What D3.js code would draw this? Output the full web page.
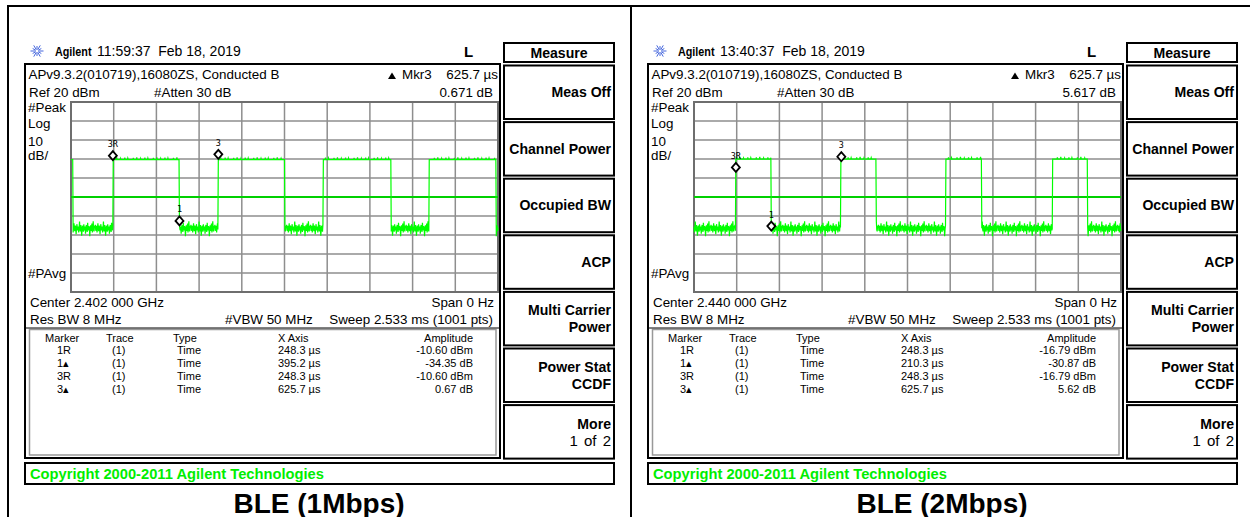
<!DOCTYPE html>
<html><head><meta charset="utf-8">
<script src="https://cdn.jsdelivr.net/npm/d3@7"></script>
<style>
body{margin:0;background:#fff;}
svg{display:block;}
</style></head><body>
<svg id="c" width="1250" height="517"></svg>
<script>
// ---------------- data ----------------
const panelTitles = ["BLE (1Mbps)", "BLE (2Mbps)"];
const clockTimes = ["11:59:37", "13:40:37"];
const dateText = "Feb 18, 2019";
const setupLine = "APv9.3.2(010719),16080ZS, Conducted B";
const refText = "Ref 20 dBm";
const attenText = "#Atten 30 dB";
const centerFreqs = ["Center 2.402 000 GHz", "Center 2.440 000 GHz"];
const spanText = "Span 0 Hz";
const rbwText = "Res BW 8 MHz";
const vbwText = "#VBW 50 MHz";
const sweepText = "Sweep 2.533 ms (1001 pts)";
const mkrReadoutTime = ["625.7 µs", "625.7 µs"];
const mkrReadoutDelta = ["0.671 dB", "5.617 dB"];
const leftLabels = ["#Peak", "Log", "10", "dB/"];
const sweepUs = 2533;
const refLevelDbm = 20;
const bottomLevelDbm = -80;
const displayLineDbm = -30;
const xDivisions = [0,1,2,3,4,5,6,7,8,9,10];
const yGridDbm = [20,10,0,-10,-20,-30,-40,-50,-60,-70,-80];
const tracePoints = 1001;
const onLevelDbm = [-10.3, -10.1];
// burst "on" intervals in µs; elsewhere the trace sits on the noise floor
const burstsLeft = [[0,12],[249,641],[872,1269],[1495,1898],[2124,2521]];
const burstsRight = [[248,456],[871,1081],[1493,1706],[2127,2334]];
// noise floor samples (dBm), read approximately from the trace band
const noiseFloorDbm = [-46.0,-44.6,-47.8,-46.9,-45.2,-48.7,-46.4,-43.8,-47.1,-48.0,-45.0,-46.3,-49.6,-45.9,
  -44.3,-47.5,-46.7,-45.6,-48.6,-46.5,-42.9,-47.0,-48.1,-44.8,-46.1,-50.4,-47.3,-45.1,-46.4,-48.3,-44.4,
  -46.9,-47.6,-45.6,-49.3,-45.9,-44.7,-47.2,-48.4,-43.6,-46.7,-47.5,-45.3,-46.2,-50.6,-47.0,-44.9,-47.8,
  -46.1,-44.0,-48.7,-46.6,-42.8,-47.3,-48.1,-45.2];
// small ripple on top of the burst level (dB)
const onRippleDb = [0,0,0,0,0,0.9,0,0,0,0,0,0,0,1.2,0,0,0,0,0,0,0,0,0.7,0,0,0,0,0,0,0,0,0,1.0,0,0,0,0,0,0,0.8,0,0,0,0,0,0,0];
const tableHeader = ["Marker","Trace","Type","X Axis","Amplitude"];
const tableMarkers = ["1R","1\u25B4","3R","3\u25B4"];
const tableTrace = ["(1)","(1)","(1)","(1)"];
const tableType = ["Time","Time","Time","Time"];
const tableXLeft = ["248.3 µs","395.2 µs","248.3 µs","625.7 µs"];
const tableAmpLeft = ["-10.60 dBm","-34.35 dB","-10.60 dBm","0.67 dB"];
const tableXRight = ["248.3 µs","210.3 µs","248.3 µs","625.7 µs"];
const tableAmpRight = ["-16.79 dBm","-30.87 dB","-16.79 dBm","5.62 dB"];
// markers on screen: [time µs, amplitude dBm, label]
const markersLeft = [[248.3,-10.60,"3R"],[643.5,-44.95,"1"],[874.0,-9.93,"3"]];
const markersRight = [[248.3,-16.79,"3R"],[458.6,-47.66,"1"],[874.0,-11.17,"3"]];
const softkeyTitle = "Measure";
const softkeys = [["Meas Off"],["Channel Power"],["Occupied BW"],["ACP"],["Multi Carrier","Power"],["Power Stat","CCDF"],["More","1 of 2"]];
const copyrightText = "Copyright 2000-2011 Agilent Technologies";

const panels = [
  {off:0, title:panelTitles[0], clock:clockTimes[0], center:centerFreqs[0], mt:mkrReadoutTime[0], md:mkrReadoutDelta[0],
   bursts:burstsLeft, on:onLevelDbm[0], tx:tableXLeft, ta:tableAmpLeft, markers:markersLeft, noiseShift:0},
  {off:623, title:panelTitles[1], clock:clockTimes[1], center:centerFreqs[1], mt:mkrReadoutTime[1], md:mkrReadoutDelta[1],
   bursts:burstsRight, on:onLevelDbm[1], tx:tableXRight, ta:tableAmpRight, markers:markersRight, noiseShift:17}
];

// ---------------- drawing ----------------
const SANS = "'Liberation Sans', Arial, sans-serif";
const svg = d3.select('#c');

function T(g, x, y, s, o = {}) {
  return g.append('text')
    .attr('transform', `translate(${x},${y}) scale(${o.sx || 1},1)`)
    .attr('font-family', o.ff || SANS)
    .attr('font-size', o.fs || 13.4)
    .attr('font-weight', o.fw || 'normal')
    .attr('text-anchor', o.anchor || 'start')
    .attr('fill', o.fill || '#000')
    .attr('word-spacing', o.ws || 0)
    .text(s);
}

// outer frame
svg.append('line').attr('x1', 7).attr('x2', 1250).attr('y1', 6).attr('y2', 6).attr('stroke', '#000').attr('stroke-width', 2);
svg.append('line').attr('x1', 8).attr('x2', 8).attr('y1', 5).attr('y2', 517).attr('stroke', '#000').attr('stroke-width', 2);
svg.append('line').attr('x1', 631).attr('x2', 631).attr('y1', 5).attr('y2', 517).attr('stroke', '#000').attr('stroke-width', 2);

panels.forEach((p, pi) => {
  const g = svg.append('g').attr('transform', `translate(${p.off},0)`);

  // header: spark logo
  const star = g.append('g').attr('transform', 'translate(37,51)');
  d3.range(12).forEach(k => {
    const a = k * Math.PI / 6;
    star.append('line')
      .attr('x1', Math.cos(a) * 1.5).attr('y1', Math.sin(a) * 1.5)
      .attr('x2', Math.cos(a) * (k % 2 ? 5 : 6.5)).attr('y2', Math.sin(a) * (k % 2 ? 5 : 6.5))
      .attr('stroke', '#4466dd').attr('stroke-width', 1);
  });
  T(g, 55, 56, 'Agilent', {fw: 'bold', fs: 13, sx: 0.83});
  T(g, 97, 56, p.clock + '\u00A0\u00A0' + dateText, {fs: 14});
  T(g, 468.5, 57, 'L', {fw: 'bold', fs: 15, anchor: 'middle'});

  // main display box
  g.append('rect').attr('x', 25).attr('y', 64).attr('width', 475).attr('height', 394)
    .attr('fill', 'none').attr('stroke', '#000').attr('stroke-width', 2);

  T(g, 28.5, 79, setupLine);
  g.append('path').attr('d', 'M388,79 L392,72.5 L396,79 Z').attr('fill', '#000');
  T(g, 402, 79, 'Mkr3');
  T(g, 498, 79, p.mt, {anchor: 'end'});
  T(g, 493, 97, p.md, {anchor: 'end'});
  T(g, 29, 97, refText);
  T(g, 154, 97, attenText);
  const lblY = [111.5, 128, 145.5, 160];
  leftLabels.forEach((s, k) => T(g, 28, lblY[k], s));
  T(g, 28, 278, '#PAvg');
  T(g, 30, 306.5, p.center);
  T(g, 494, 306.5, spanText, {anchor: 'end'});
  T(g, 30, 324, rbwText);
  T(g, 225, 324, vbwText);
  T(g, 493, 324, sweepText, {anchor: 'end'});

  // scales
  const xs = d3.scaleLinear().domain([0, sweepUs]).range([71, 498]);
  const ys = d3.scaleLinear().domain([bottomLevelDbm, refLevelDbm]).range([292, 102]);

  // graticule
  const grid = g.append('g');
  xDivisions.forEach(d => {
    grid.append('line').attr('x1', xs(d * sweepUs / 10)).attr('x2', xs(d * sweepUs / 10))
      .attr('y1', ys(refLevelDbm)).attr('y2', ys(bottomLevelDbm))
      .attr('stroke', '#8e8e8e').attr('stroke-width', 1.5);
  });
  yGridDbm.forEach(v => {
    grid.append('line').attr('x1', xs(0)).attr('x2', xs(sweepUs))
      .attr('y1', ys(v)).attr('y2', ys(v))
      .attr('stroke', '#8e8e8e').attr('stroke-width', 1.5);
  });
  grid.append('rect').attr('x', xs(0)).attr('y', ys(refLevelDbm))
    .attr('width', xs(sweepUs) - xs(0)).attr('height', ys(bottomLevelDbm) - ys(refLevelDbm))
    .attr('fill', 'none').attr('stroke', '#6e6e6e').attr('stroke-width', 2);

  // display line
  g.append('line').attr('x1', xs(0)).attr('x2', xs(sweepUs))
    .attr('y1', ys(displayLineDbm)).attr('y2', ys(displayLineDbm))
    .attr('stroke', '#00d000').attr('stroke-width', 2);

  // trace
  const pts = d3.range(tracePoints).map(i => {
    const t = i * sweepUs / (tracePoints - 1);
    const on = p.bursts.some(([a, b]) => t >= a && t < b);
    const v = on ? p.on + onRippleDb[i % onRippleDb.length]
                 : noiseFloorDbm[(i + p.noiseShift) % noiseFloorDbm.length];
    return [t, v];
  });
  g.append('path').datum(pts)
    .attr('d', d3.line().x(d => xs(d[0])).y(d => ys(d[1])))
    .attr('fill', 'none').attr('stroke', '#00ff00').attr('stroke-width', 1.2);

  // markers
  p.markers.forEach(([t, v, lab]) => {
    const x = xs(t), y = ys(v);
    g.append('path').attr('d', `M${x},${y} L${x + 4},${y - 4.5} L${x},${y - 9} L${x - 4},${y - 4.5} Z`)
      .attr('fill', '#fff').attr('stroke', '#000').attr('stroke-width', 1.8);
    T(g, x, y - 13, lab, {fs: 8.5, anchor: 'middle', ff: "'DejaVu Sans Mono', monospace"});
  });

  // marker table
  g.append('rect').attr('x', 29.5).attr('y', 329.5).attr('width', 466.5).attr('height', 125.5)
    .attr('fill', 'none').attr('stroke', '#999').attr('stroke-width', 1.5);
  g.append('line').attr('x1', 26).attr('x2', 499).attr('y1', 328).attr('y2', 328).attr('stroke', '#000').attr('stroke-width', 1);
  const TF = {fs: 11};
  T(g, 45, 341.5, tableHeader[0], TF);
  T(g, 106, 341.5, tableHeader[1], TF);
  T(g, 173, 341.5, tableHeader[2], TF);
  T(g, 278, 341.5, tableHeader[3], TF);
  T(g, 473, 341.5, tableHeader[4], {fs: 11, anchor: 'end'});
  tableMarkers.forEach((m, r) => {
    const yy = 354 + r * 13;
    T(g, 57, yy, m, TF);
    T(g, 112, yy, tableTrace[r], TF);
    T(g, 177, yy, tableType[r], TF);
    T(g, 278, yy, p.tx[r], TF);
    T(g, 473, yy, p.ta[r], {fs: 11, anchor: 'end'});
  });

  // softkeys
  g.append('rect').attr('x', 504).attr('y', 43).attr('width', 110).attr('height', 19)
    .attr('fill', 'none').attr('stroke', '#000').attr('stroke-width', 2);
  T(g, 559, 57.5, softkeyTitle, {fw: 'bold', fs: 15, sx: 0.94, anchor: 'middle'});
  softkeys.forEach((lines, k) => {
    const top = 65.5 + k * 56.6;
    g.append('rect').attr('x', 504).attr('y', top).attr('width', 110).attr('height', 53.5)
      .attr('fill', 'none').attr('stroke', '#000').attr('stroke-width', 2);
    if (lines.length === 1) {
      T(g, 611, top + 31.5, lines[0], {fw: 'bold', fs: 15, sx: 0.94, anchor: 'end'});
    } else {
      T(g, 611, top + 23.5, lines[0], {fw: 'bold', fs: 15, sx: 0.94, anchor: 'end'});
      if (lines[1] === '1 of 2') T(g, 611, top + 40.5, lines[1], {fs: 15, anchor: 'end', ws: 2});
      else T(g, 611, top + 40.5, lines[1], {fw: 'bold', fs: 15, sx: 0.94, anchor: 'end'});
    }
  });

  // copyright bar
  g.append('rect').attr('x', 25).attr('y', 463).attr('width', 589).attr('height', 21)
    .attr('fill', 'none').attr('stroke', '#000').attr('stroke-width', 2);
  T(g, 30, 478.5, copyrightText, {fw: 'bold', fs: 14.7, fill: '#00ee00'});

  // caption
  T(g, 319, 512.5, p.title, {fw: 'bold', fs: 28, anchor: 'middle'});
});
</script>
</body></html>
